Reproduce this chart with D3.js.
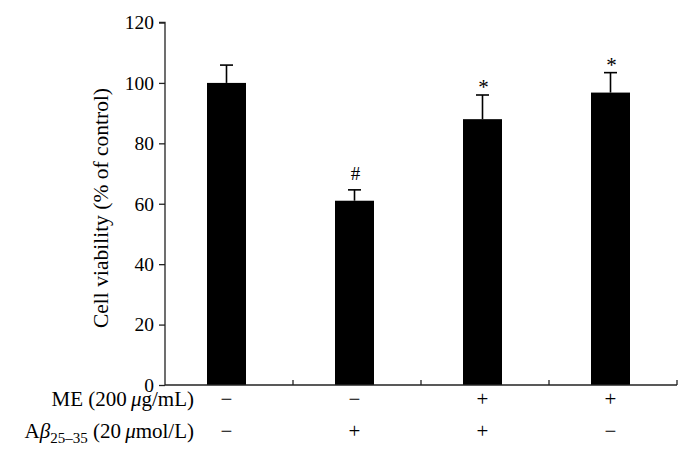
<!DOCTYPE html>
<html>
<head>
<meta charset="utf-8">
<script src="https://cdn.jsdelivr.net/npm/d3@7"></script>
<style>
  body { margin: 0; background: #fff; }
  svg text { font-family: "Liberation Serif", "DejaVu Serif", serif; fill: #000; }
</style>
</head>
<body>
<div id="figure"></div>
<script>
// data
var groups = ["g1", "g2", "g3", "g4"];
var viability = [100, 61, 88, 96.8];
var sd = [5.9, 3.6, 8.0, 6.6];
var marks = ["", "#", "*", "*"];
var meRow = ["\u2212", "\u2212", "+", "+"];
var abRow = ["\u2212", "+", "+", "\u2212"];
var yTicks = [0, 20, 40, 60, 80, 100, 120];

var W = 690, H = 453;
var pLeft = 165, pRight = 677, pTop = 22.5, pBottom = 385;

var svg = d3.select("#figure").append("svg")
  .attr("width", W).attr("height", H);

var x = d3.scaleBand().domain(groups).range([pLeft, pRight]).padding(0);
var y = d3.scaleLinear().domain([0, 120]).range([pBottom, pTop]);
var barW = 39;
var cx = function(i) { return x(groups[i]) + x.bandwidth() / 2 - 2.5; };

// bars
svg.selectAll("rect.bar")
  .data(viability)
  .join("rect")
  .attr("class", "bar")
  .attr("x", (d, i) => cx(i) - barW / 2)
  .attr("y", d => y(d))
  .attr("width", barW)
  .attr("height", d => y(0) - y(d))
  .attr("fill", "#000");

// error bars
var eb = svg.append("g").attr("stroke", "#000").attr("stroke-width", 1.6);
viability.forEach(function(v, i) {
  eb.append("line").attr("x1", cx(i)).attr("x2", cx(i))
    .attr("y1", y(v)).attr("y2", y(v + sd[i]));
  eb.append("line").attr("x1", cx(i) - 6.5).attr("x2", cx(i) + 6.5)
    .attr("y1", y(v + sd[i])).attr("y2", y(v + sd[i]));
});

// significance marks
svg.selectAll("text.sig")
  .data(marks)
  .join("text")
  .attr("class", "sig")
  .attr("x", (d, i) => cx(i) + 1)
  .attr("y", (d, i) => y(viability[i] + sd[i]) - (d === "#" ? 10 : 1))
  .attr("text-anchor", "middle")
  .attr("font-size", d => d === "#" ? 19 : 21)
  .text(d => d);

// y axis
var yAxis = svg.append("g")
  .attr("transform", `translate(${pLeft},0)`)
  .call(d3.axisLeft(y).tickValues(yTicks).tickSize(6).tickPadding(5));
yAxis.selectAll("text").attr("font-size", 19.5).attr("font-family", "Liberation Serif");
yAxis.selectAll("path, line").attr("stroke", "#222").attr("stroke-width", 1.3);
yAxis.select(".domain").attr("d", `M-6,${pTop}H0V${pBottom}`);

// x axis (ticks between groups, pointing up)
var xAxis = svg.append("g")
  .attr("transform", `translate(0,${pBottom})`);
xAxis.append("line").attr("x1", pLeft).attr("x2", pRight)
  .attr("stroke", "#222").attr("stroke-width", 1.3);
xAxis.selectAll("line.tk")
  .data(groups)
  .join("line")
  .attr("class", "tk")
  .attr("x1", d => x(d) + x.bandwidth()).attr("x2", d => x(d) + x.bandwidth())
  .attr("y1", 0).attr("y2", -5)
  .attr("stroke", "#222").attr("stroke-width", 1.3);

// y label
svg.append("text")
  .attr("transform", `translate(108,208) rotate(-90)`)
  .attr("text-anchor", "middle")
  .attr("font-size", 21.5)
  .text("Cell viability (% of control)");

// treatment rows
var rowY = [406, 438];
var row1 = svg.append("text").attr("x", 194).attr("y", rowY[0])
  .attr("text-anchor", "end").attr("font-size", 21);
row1.append("tspan").text("ME (200\u2009");
row1.append("tspan").attr("font-style", "italic").text("\u03bc");
row1.append("tspan").text("g/mL)");

var row2 = svg.append("text").attr("x", 194).attr("y", rowY[1])
  .attr("text-anchor", "end").attr("font-size", 21);
row2.append("tspan").text("A");
row2.append("tspan").attr("font-style", "italic").text("\u03b2");
row2.append("tspan").attr("font-size", 15).attr("dy", 5).text("25\u201335");
row2.append("tspan").attr("dy", -5).text(" (20\u2009");
row2.append("tspan").attr("font-style", "italic").text("\u03bc");
row2.append("tspan").text("mol/L)");

svg.selectAll("text.me")
  .data(meRow)
  .join("text")
  .attr("class", "me")
  .attr("x", (d, i) => cx(i)).attr("y", rowY[0])
  .attr("text-anchor", "middle").attr("font-size", 21)
  .text(d => d);

svg.selectAll("text.ab")
  .data(abRow)
  .join("text")
  .attr("class", "ab")
  .attr("x", (d, i) => cx(i)).attr("y", rowY[1])
  .attr("text-anchor", "middle").attr("font-size", 21)
  .text(d => d);
</script>
</body>
</html>
